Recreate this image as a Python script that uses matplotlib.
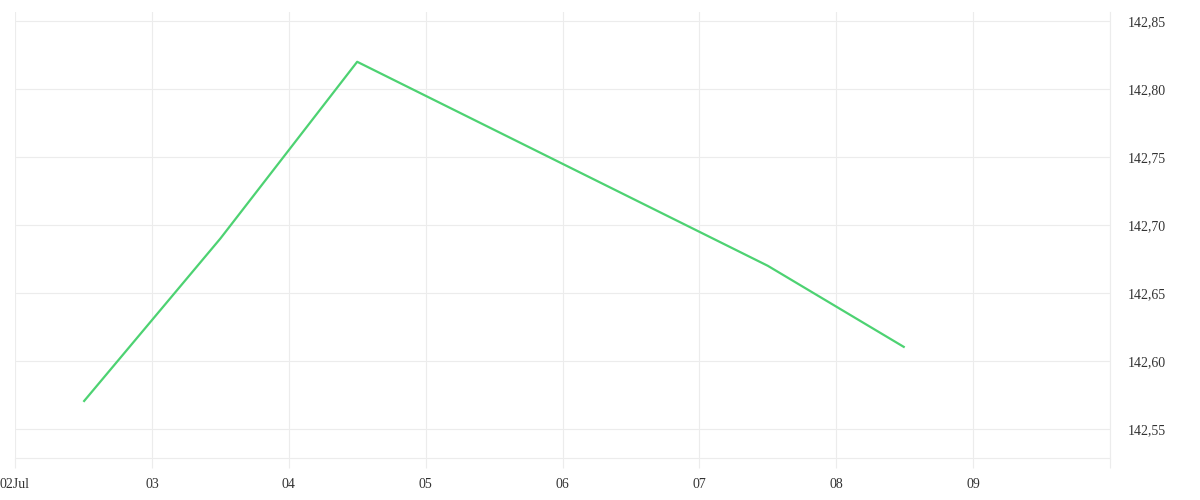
import datetime as dt
import matplotlib
matplotlib.use("Agg")
import matplotlib.pyplot as plt
import matplotlib.dates as mdates

# daily points, sampled at noon
dates = [dt.datetime(2024, 7, d, 12) for d in range(2, 9)]
values = [142.57, 142.69, 142.82, 142.77, 142.72, 142.67, 142.61]

tick_days = [dt.datetime(2024, 7, d) for d in range(2, 11)]
tick_labels = ["02Jul", "03", "04", "05", "06", "07", "08", "09", ""]
y_ticks = [142.55, 142.60, 142.65, 142.70, 142.75, 142.80, 142.85]

grid_col = "#ececec"
line_col = "#4dd272"
text_col = "#333333"

plt.rcParams["font.family"] = ["Liberation Serif", "DejaVu Serif"]

fig = plt.figure(figsize=(12, 5), dpi=100)
ax = fig.add_axes([15 / 1200, 42 / 500, 1095 / 1200, 446 / 500])

ax.plot(dates, values, color=line_col, linewidth=1.6, solid_capstyle="butt")

ax.set_xlim(tick_days[0], tick_days[-1])
ax.set_ylim(142.5287, 142.8566)

ax.set_xticks(tick_days)
ax.set_xticklabels(tick_labels)
ax.set_yticks(y_ticks)
ax.set_yticklabels([f"{v:.2f}".replace(".", ",") for v in y_ticks])

ax.yaxis.tick_right()
ax.tick_params(axis="y", length=0, pad=13, labelsize=10, labelcolor=text_col)
ax.tick_params(axis="x", length=7.2, width=0.8, color=grid_col, pad=7,
               labelsize=10, labelcolor=text_col)

ax.grid(True, color=grid_col, linewidth=0.8)
for s in ["top", "left"]:
    ax.spines[s].set_visible(False)
for s in ["bottom", "right"]:
    ax.spines[s].set_color(grid_col)
    ax.spines[s].set_linewidth(0.8)

fig.savefig("out.png", dpi=100)
